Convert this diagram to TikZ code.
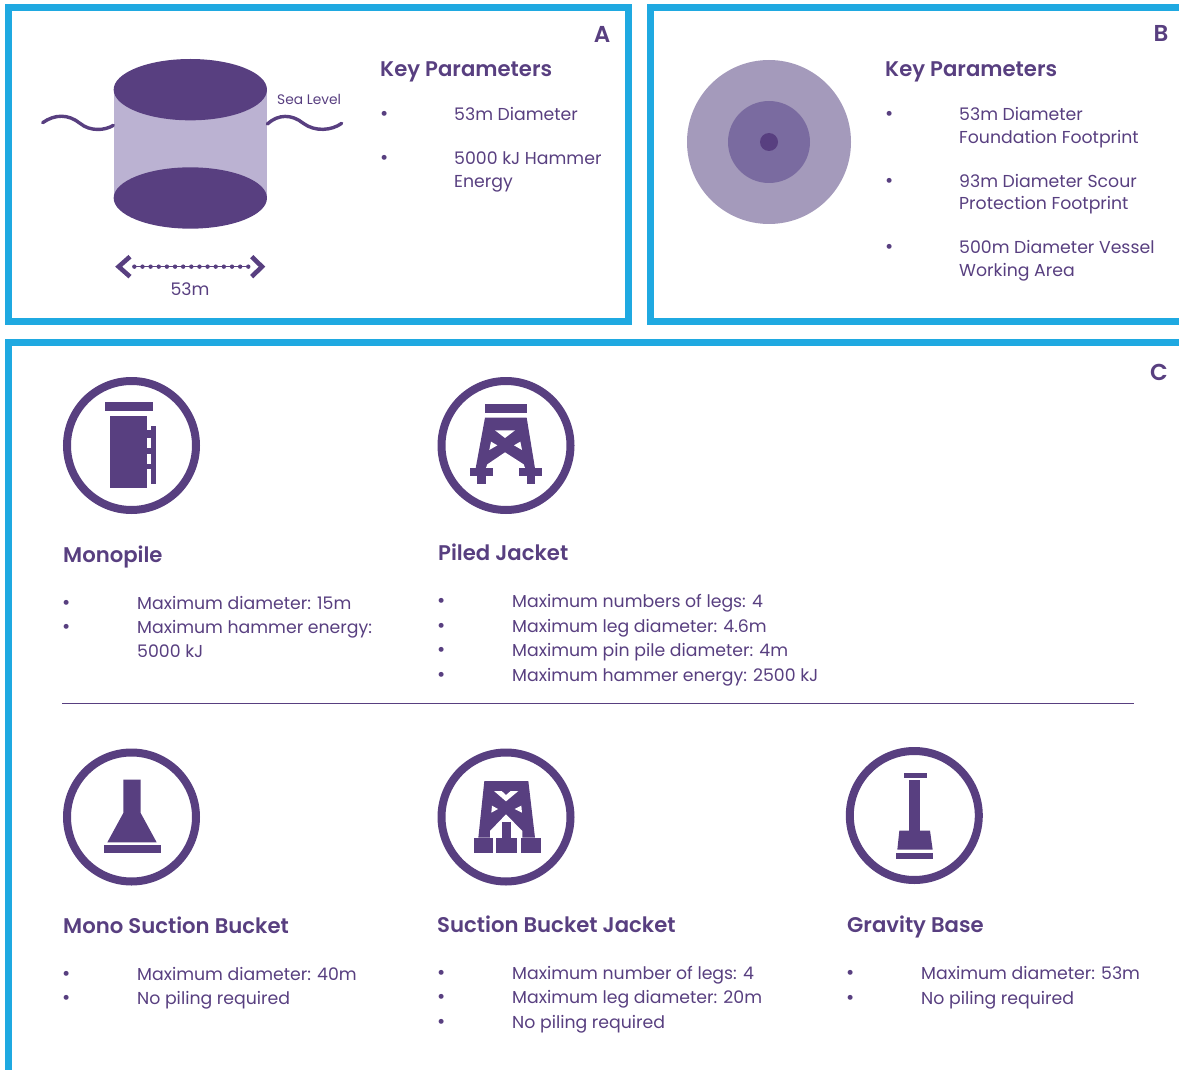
\documentclass[tikz,border=0pt]{standalone}
\usepackage{fontspec}
\setmainfont{Poppins}
\newfontfamily\headfont{Poppins SemiBold}
\definecolor{pur}{HTML}{583F80}
\definecolor{frm}{HTML}{1FA9E1}
\definecolor{lil}{HTML}{BBB2D2}
\definecolor{cmid}{HTML}{A49ABB}
\definecolor{cin}{HTML}{7A6BA0}
\tikzset{
 panel/.style={draw=frm,line width=7pt},
 body/.style={anchor=base west,inner sep=0pt,text=pur,font=\fontsize{17.3}{20}\selectfont},
 head/.style={anchor=base west,inner sep=0pt,text=pur,font=\headfont\fontsize{21.2}{24}\selectfont},
 letter/.style={anchor=base,inner sep=0pt,text=pur,font=\headfont\fontsize{23}{24}\selectfont},
 dot/.style={anchor=base west,inner sep=0pt,text=pur,font=\fontsize{20}{20}\selectfont},
 ring/.style={draw=pur,line width=8pt,fill=white},
 ink/.style={fill=pur,draw=none},
 gap/.style={fill=white,draw=none},
 wave/.style={draw=pur,line width=3.4pt,line cap=round},
 zoomA/.style={shift={(30,40)},scale=1/3},
}
\begin{document}
\begin{tikzpicture}[x=1pt,y=-1pt]
\useasboundingbox (0,0) rectangle (1179,1070);
\clip (0,0) rectangle (1179,1070);
% panels
\draw[panel] (8.5,7.5) rectangle (628.5,321.5);
\draw[panel] (650.5,7.5) rectangle (1195,321.5);
\draw[panel] (8.5,342.5) rectangle (1195,1090);
\node[letter] (la) at (602,43) {A};
\node[letter] (lb) at (1161,42) {B};
\node[letter] (lc) at (1159,380) {C};
% cylinder
\begin{scope}[zoomA]
\fill[lil] (252,149) rectangle (710,474);
\draw[wave] (38,248) .. controls (75,222) and (115,222) .. (150,250) .. controls (180,275) and (225,272) .. (250,256);
\draw[wave] (712,252) .. controls (745,222) and (785,222) .. (820,250) .. controls (855,276) and (905,272) .. (935,250);
\fill[pur] (481,149) ellipse [x radius=230,y radius=92];
\fill[pur] (481,474) ellipse [x radius=230,y radius=92];
\coordinate (dl) at (313,680);
\coordinate (dr) at (655,680);
\draw[pur,line width=1pt] (dl) -- (dr);
\draw[pur,line width=4.4pt,line cap=round,dash pattern=on 0pt off 8.14pt] (dl) -- (dr);
\draw[pur,line width=4.6pt] (300,650) -- (266,680) -- (300,710);
\draw[pur,line width=4.6pt] (665,650) -- (696,680) -- (665,710);
\end{scope}
\node[body,font=\fontsize{13.8}{16}\selectfont] (sea) at (277,105) {Sea Level};
\node[body,anchor=base] (dim) at (190,295) {53m};
% A text
\node[head] (ka) at (380,76.5) {Key Parameters};
\node[dot] (a1) at (380,121) {•};
\node[body] (a2) at (454,121) {53m Diameter};
\node[dot] (a3) at (380,165) {•};
\node[body] (a4) at (454,165) {5000 kJ Hammer};
\node[body] (a5) at (454,188) {Energy};
% B
\fill[cmid] (769,142) circle (82);
\fill[cin] (769,142) circle (41);
\fill[pur] (769,142) circle (9);
\node[head] (kb) at (885,76.5) {Key Parameters};
\node[dot] (b1) at (885,121) {•};
\node[body] (b2) at (959,121) {53m Diameter};
\node[body] (b3) at (959,144) {Foundation Footprint};
\node[dot] (b4) at (885,188) {•};
\node[body] (b5) at (959,188) {93m Diameter Scour};
\node[body] (b6) at (959,210) {Protection Footprint};
\node[dot] (b7) at (885,254) {•};
\node[body] (b8) at (959,254) {500m Diameter Vessel};
\node[body] (b9) at (959,276) {Working Area};
% divider
\coordinate (ds) at (62,703);
\coordinate (de) at (1134,703);
\draw[pur,line width=0.9pt] (ds) -- (de);
% monopile icon
\draw[ring] (131.5,445.5) circle (64.5);
\begin{scope}[shift={(50,365)},scale=1/3]
\fill[ink] (166,112) rectangle (310,138);
\fill[ink] (181,153) rectangle (291,370);
\fill[ink] (303,184) rectangle (318,358);
\fill[ink] (291,195) rectangle (303,218);
\fill[ink] (291,250) rectangle (303,267);
\fill[ink] (291,298) rectangle (303,312);
\end{scope}
% jacket icon
\draw[ring] (506,445.5) circle (64.5);
\begin{scope}[shift={(425,365)},scale=1/3]
\fill[ink] (180,116) rectangle (305,145);
\fill[ink] (180,158) -- (305,158) -- (330,310) -- (152,310) -- cycle;
\fill[gap] (210,196) -- (270,196) -- (240,219) -- cycle;
\fill[gap] (198,230) -- (217,241) -- (193,255) -- cycle;
\fill[gap] (286,230) -- (267,241) -- (291,255) -- cycle;
\fill[gap] (187,298) -- (240,262) -- (296,298) -- (302,314) -- (181,314) -- cycle;
\fill[ink] (135,308) rectangle (203,333);
\fill[ink] (157,308) rectangle (183,358);
\fill[ink] (283,308) rectangle (350,333);
\fill[ink] (305,308) rectangle (331,358);
\end{scope}
\node[head] (mh) at (63,562.5) {Monopile};
\node[dot] (m1) at (62,609) {•};
\node[body] (m2) at (137,609) {Maximum diameter: 15m};
\node[dot] (m3) at (62,633) {•};
\node[body] (m4) at (137,633) {Maximum hammer energy:};
\node[body] (m5) at (137,657) {5000 kJ};
\node[head] (jh) at (438,560.5) {Piled Jacket};
\node[dot] (j1) at (437,607) {•};
\node[body] (j2) at (512,607) {Maximum numbers of legs: 4};
\node[dot] (j3) at (437,632) {•};
\node[body] (j4) at (512,632) {Maximum leg diameter: 4.6m};
\node[dot] (j5) at (437,656) {•};
\node[body] (j6) at (512,656) {Maximum pin pile diameter: 4m};
\node[dot] (j7) at (437,681) {•};
\node[body] (j8) at (512,681) {Maximum hammer energy: 2500 kJ};
% mono bucket icon
\draw[ring] (131.5,817) circle (64.5);
\begin{scope}[shift={(50,737)},scale=1/3]
\fill[ink] (220,128) -- (272,128) -- (272,228) -- (320,316) -- (172,316) -- (220,228) -- cycle;
\fill[ink] (162,325) rectangle (333,347);
\end{scope}
% bucket jacket icon
\draw[ring] (506,817) circle (64.5);
\begin{scope}[shift={(425,737)},scale=1/3]
\fill[ink] (178,132) -- (310,132) -- (330,302) -- (160,302) -- cycle;
\fill[gap] (207,162) -- (230,162) -- (243,174) -- (257,162) -- (280,162) -- (243,193) -- cycle;
\fill[gap] (201,206) -- (219,216) -- (199,227) -- cycle;
\fill[gap] (289,206) -- (269,216) -- (291,227) -- cycle;
\fill[gap] (195,306) -- (195,282) -- (243,232) -- (292,282) -- (292,306) -- cycle;
\fill[ink] (146,302) rectangle (203,347);
\fill[ink] (214,302) rectangle (275,347);
\fill[ink] (232,255) rectangle (258,302);
\fill[ink] (287,302) rectangle (347,347);
\end{scope}
% gravity icon
\draw[ring] (914.3,815.5) circle (64.5);
\begin{scope}[shift={(835,737)},scale=1/3]
\fill[ink] (207,108) rectangle (275,124);
\fill[ink] (222,130) rectangle (256,281);
\fill[ink] (193,281) -- (285,281) -- (293,338) -- (187,338) -- cycle;
\fill[ink] (184,347) rectangle (295,367);
\end{scope}
\node[head] (sh) at (63,933) {Mono Suction Bucket};
\node[dot] (s1) at (62,980) {•};
\node[body] (s2) at (137,980) {Maximum diameter: 40m};
\node[dot] (s3) at (62,1004) {•};
\node[body] (s4) at (137,1004) {No piling required};
\node[head] (bh) at (437,932) {Suction Bucket Jacket};
\node[dot] (t1) at (437,979) {•};
\node[body] (t2) at (512,979) {Maximum number of legs: 4};
\node[dot] (t3) at (437,1003) {•};
\node[body] (t4) at (512,1003) {Maximum leg diameter: 20m};
\node[dot] (t5) at (437,1028) {•};
\node[body] (t6) at (512,1028) {No piling required};
\node[head] (gh) at (847,932) {Gravity Base};
\node[dot] (g1) at (846,979) {•};
\node[body] (g2) at (921,979) {Maximum diameter: 53m};
\node[dot] (g3) at (846,1004) {•};
\node[body] (g4) at (921,1004) {No piling required};
\end{tikzpicture}
\end{document}
